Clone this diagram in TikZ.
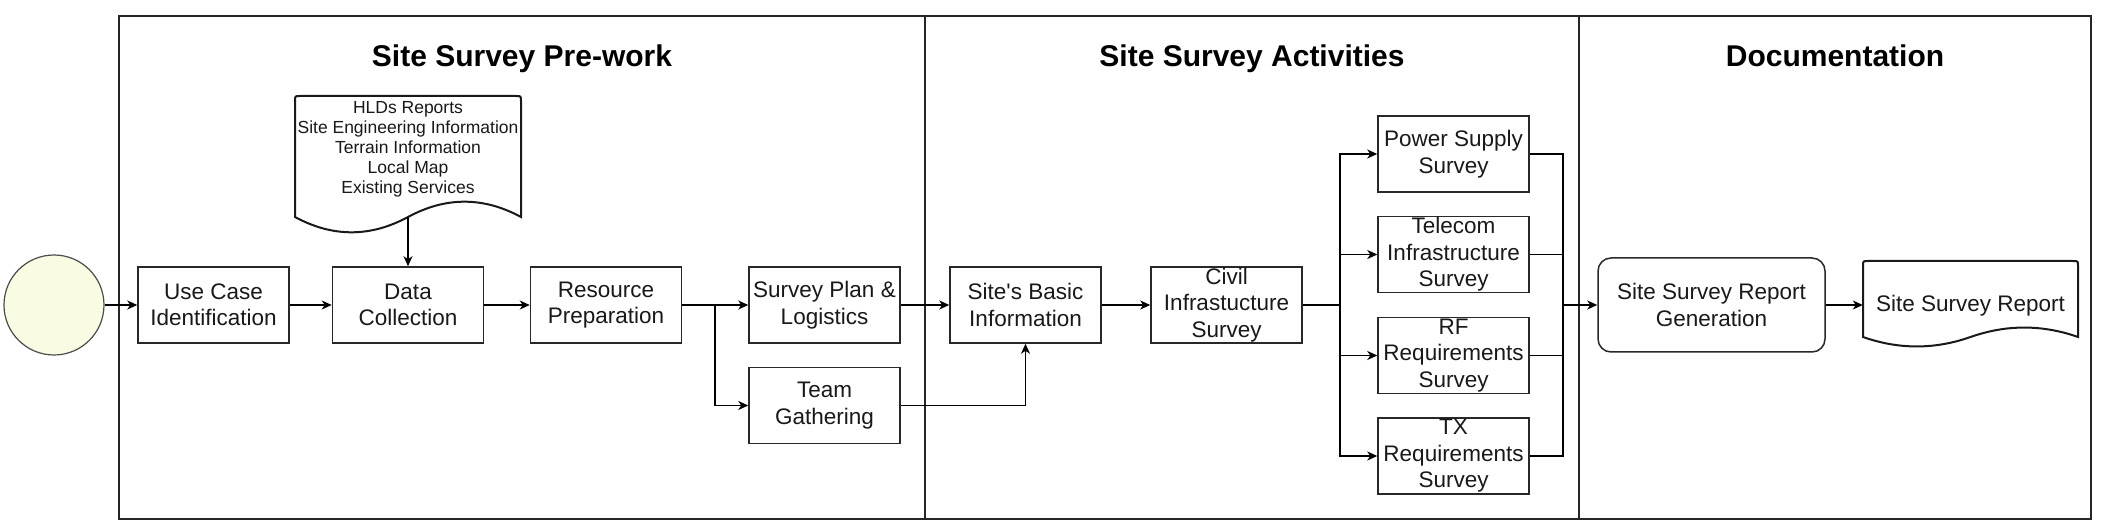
\documentclass[tikz,border=0pt]{standalone}
\usepackage{fontspec}
\setmainfont{Liberation Sans}
\usetikzlibrary{arrows.meta}
\definecolor{startfill}{RGB}{249,251,226}
\definecolor{boxline}{RGB}{40,40,40}
\definecolor{txt}{RGB}{25,25,25}
\begin{document}
\begin{tikzpicture}[x=1pt,y=-1pt,
  procbox/.style={draw=boxline, line width=1.5pt, fill=white, inner sep=0pt,
    minimum width=151pt, minimum height=76pt, align=center, text=txt,
    font=\fontsize{22.5}{26.5}\selectfont},
  genbox/.style={procbox, rounded corners=13pt, minimum width=227pt, minimum height=94pt},
  doctext/.style={inner sep=0pt, align=center, text=txt},
  lanetitle/.style={anchor=base, inner sep=0pt, text=black, font=\fontsize{30}{34}\selectfont\bfseries},
  startnode/.style={circle, draw=black!70, line width=1.2pt, fill=startfill, minimum size=100pt, inner sep=0pt},
  conn/.style={draw=black, line width=1.4pt},
  arr/.style={conn, -{Stealth[length=10pt,width=9pt,inset=3pt]}},
  frameline/.style={draw=black!85, line width=1.5pt},
  docline/.style={draw=black!90, line width=2pt, fill=white},
]
\useasboundingbox (0,0) rectangle (2101,526);

% lanes
\draw[frameline] (119,16) rectangle (2091,519);
\draw[frameline] (925,16) -- (925,519);
\draw[frameline] (1579,16) -- (1579,519);
\node[lanetitle] (t1) at (522,67) {Site Survey Pre-work};
\node[lanetitle] (t2) at (1252,67) {Site Survey Activities};
\node[lanetitle] (t3) at (1835,67) {Documentation};

% document shapes
\draw[docline] (295,217) -- (295,101) .. controls (295,96) .. (300,96) -- (516,96)
  .. controls (521,96) .. (521,101) -- (521,217)
  .. controls (483.3,196.6) and (445.7,196.6) .. (408,217)
  .. controls (370.3,237.4) and (332.7,237.4) .. (295,217) -- cycle;
\node[doctext, minimum width=226pt, font=\fontsize{17.5}{20}\selectfont] (doc1) at (408,149.5)
  {HLDs Reports\\Site Engineering Information\\Terrain Information\\Local Map\\Existing Services};
\coordinate (doc1b) at (408,217);

\draw[docline] (1863,337) -- (1863,266) .. controls (1863,261) .. (1868,261) -- (2073,261)
  .. controls (2078,261) .. (2078,266) -- (2078,337)
  .. controls (2042.2,324.4) and (2006.3,324.4) .. (1970.5,337)
  .. controls (1934.7,349.6) and (1898.8,349.6) .. (1863,337) -- cycle;
\node[doctext, minimum width=215pt, font=\fontsize{22.5}{26.5}\selectfont] (doc2) at (1970.5,306) {Site Survey Report};

% nodes
\node[startnode] (start) at (54,305) {};
\node[procbox] (uc) at (213.5,305) {Use Case\\Identification};
\node[procbox] (dc) at (408,305) {Data\\Collection};
\node[procbox] (rp) at (606,305) {Resource\\Preparation};
\node[procbox] (sp) at (824.5,305) {Survey Plan \&\\Logistics};
\node[procbox] (tg) at (824.5,405.5) {Team\\Gathering};
\node[procbox] (sbi) at (1025.5,305) {Site\textquotesingle s Basic\\Information};
\node[procbox] (civ) at (1226.5,305) {Civil\\Infrastucture\\Survey};
\node[procbox] (ps) at (1453.5,154) {Power Supply\\Survey};
\node[procbox] (tel) at (1453.5,254.5) {Telecom\\Infrastructure\\Survey};
\node[procbox] (rf) at (1453.5,355.5) {RF\\Requirements\\Survey};
\node[procbox] (tx) at (1453.5,456) {TX\\Requirements\\Survey};
\node[genbox] (gen) at (1711.5,305) {Site Survey Report\\Generation};

\coordinate (br) at (715,305);
\coordinate (spl) at (1340,305);
\coordinate (mrg) at (1563,305);

% connectors
\draw[arr] (start) -- (uc);
\draw[arr] (uc) -- (dc);
\draw[arr] (doc1b) -- (doc1b |- dc.north);
\draw[arr] (dc) -- (rp);
\draw[arr] (rp.east) -- (sp.west);
\draw[arr] (br) |- (tg.west);
\draw[arr] (sp) -- (sbi);
\draw[arr] (tg.east) -| (sbi.south);
\draw[arr] (sbi) -- (civ);
\draw[conn] (civ.east) -- (spl);
\draw[arr] (spl) |- (ps.west);
\draw[arr] (spl) |- (tel.west);
\draw[arr] (spl) |- (rf.west);
\draw[arr] (spl) |- (tx.west);
\draw[conn] (ps.east) -| (mrg);
\draw[conn] (tel.east) -| (mrg);
\draw[conn] (rf.east) -| (mrg);
\draw[conn] (tx.east) -| (mrg);
\draw[arr] (mrg) -- (gen.west);
\draw[arr] (gen.east) -- (gen.east -| doc2.west);
\end{tikzpicture}
\end{document}
